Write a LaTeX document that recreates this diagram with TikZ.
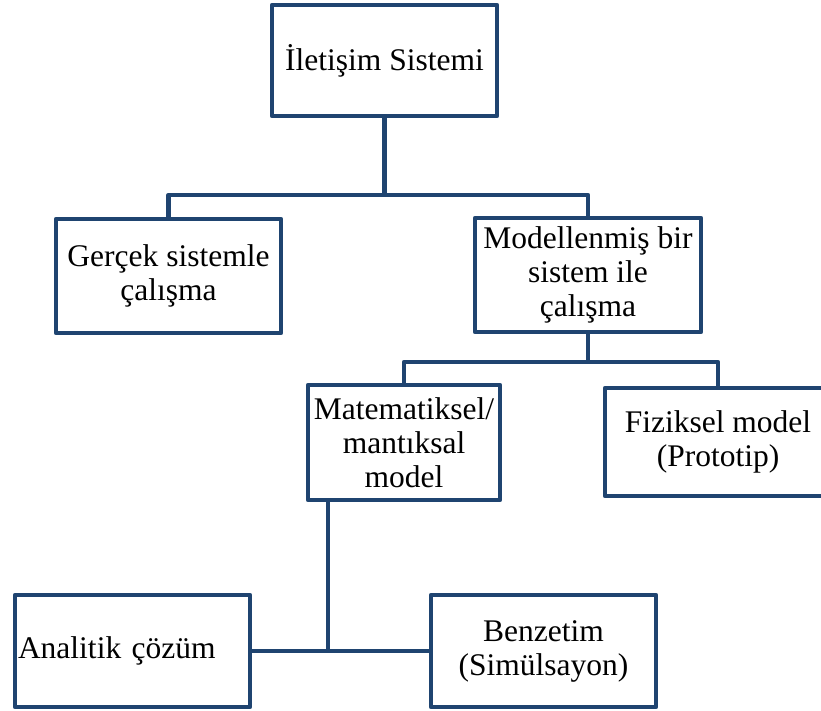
\documentclass[tikz,border=0pt]{standalone}
\usepackage{fontspec}
\setmainfont{Liberation Serif}
\definecolor{boxblue}{HTML}{1F4470}
\begin{document}
\begin{tikzpicture}[x=1pt,y=-1pt,
  box/.style={draw=boxblue, line width=4.5pt, line join=round, fill=white,
    inner sep=0pt, align=center, font=\fontsize{31.5}{34}\selectfont},
  link/.style={draw=boxblue, line width=4.5pt, line join=round}]
\useasboundingbox (0,0) rectangle (821,710);
\clip (0,0) rectangle (821,710);

% tree of boxes
\node[box, minimum width=225pt, minimum height=111pt] (root) at (384.5,60.5) {İletişim Sistemi};
\node[box, minimum width=225pt, minimum height=114pt] (real) at (168.5,276) {Gerçek sistemle\\çalışma};
\node[box, minimum width=226pt, minimum height=114pt] (modeled) at (588,275) {Modellenmiş bir\\sistem ile\\çalışma};
\node[box, minimum width=192pt, minimum height=115pt] (math) at (404,442.5) {Matematiksel/\\mantıksal\\model};
\node[box, minimum width=226pt, minimum height=108pt] (phys) at (718,442) {Fiziksel model\\(Prototip)};
\node[box, minimum width=235pt, minimum height=112pt, text width=229pt, inner xsep=3pt, align=left] (anal) at (132.5,651) {Analitik çözüm};
\node[box, minimum width=225pt, minimum height=112pt] (sim) at (543.5,651) {Benzetim\\(Simülsayon)};

% junction points of the connectors
\coordinate (j1) at (384.5,195);
\coordinate (j2) at (588,362);
\coordinate (j3) at (328,651);

% connectors
\draw[link] (root.south) -- (j1);
\draw[link] (real.north) |- (j1) -| (modeled.north);
\draw[link] (modeled.south) -- (j2);
\draw[link] (math.north) |- (j2) -| (phys.north);
\draw[link] (math.south -| j3) -- (j3);
\draw[link] (anal.east) -- (sim.west);
\end{tikzpicture}
\end{document}
